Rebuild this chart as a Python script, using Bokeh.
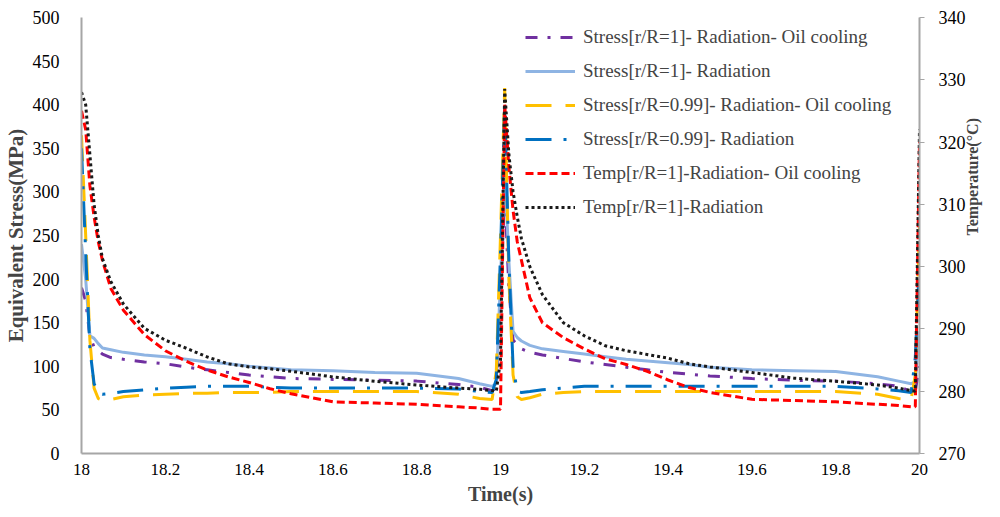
import math
from bokeh.plotting import figure
from bokeh.models import Range1d, LinearAxis, FixedTicker, Legend, LegendItem
from bokeh.embed import file_html
from bokeh.resources import INLINE

# ---------------- data ----------------
time_s = [18.00, 18.01, 18.02, 18.03, 18.04, 18.05, 18.07, 18.10, 18.15, 18.20,
          18.25, 18.30, 18.35, 18.40, 18.45, 18.50, 18.60, 18.70, 18.80, 18.90,
          18.95, 18.98, 18.99, 19.00, 19.01, 19.02, 19.03, 19.04, 19.05, 19.07,
          19.10, 19.15, 19.20, 19.25, 19.30, 19.35, 19.40, 19.45, 19.50, 19.60,
          19.70, 19.80, 19.90, 19.95, 19.98, 19.99, 20.00]

stress_r1_oil = [190, 175, 135, 122, 118, 114, 110, 108, 105, 103,
                 99, 96, 93, 90, 88, 86, 85, 84, 83, 79,
                 76, 72, 75, 180, 300, 190, 130, 125, 120, 116,
                 113, 109, 105, 102, 99, 96, 93, 91, 89, 86,
                 84, 83, 80, 77, 71, 72, 100]

stress_r1_rad = [240, 200, 135, 132, 126, 121, 119, 116, 113, 111,
                 108, 105, 103, 100, 98, 96, 95, 93, 92, 86,
                 80, 77, 80, 200, 330, 220, 140, 133, 129, 124,
                 120, 117, 114, 111, 108, 106, 104, 102, 99, 96,
                 95, 94, 88, 83, 80, 82, 140]

stress_r099_oil = [365, 250, 130, 75, 63, 61, 62, 65, 67, 68,
                   69, 69, 70, 70, 70, 71, 71, 71, 71, 68,
                   63, 62, 95, 250, 419, 200, 90, 65, 62, 64,
                   68, 70, 71, 71, 71, 71, 71, 71, 71, 71,
                   71, 71, 68, 63, 62, 90, 260]

stress_r099_rad = [350, 230, 120, 80, 70, 68, 69, 71, 73, 75,
                   76, 77, 77, 77, 76, 75, 75, 75, 75, 74,
                   71, 70, 85, 230, 400, 220, 100, 71, 70, 71,
                   73, 75, 77, 77, 77, 77, 77, 77, 77, 77,
                   77, 77, 74, 72, 70, 110, 220]

temp_r1_oil = [325, 322, 313, 308, 304, 301, 296.5, 293, 289.1, 286.5,
               284.8, 283.4, 282.3, 281.4, 280.4, 279.6, 278.3, 278.1, 277.9, 277.5,
               277.3, 277.1, 277.1, 277.1, 326, 316, 309, 304, 301, 295,
               291, 288.6, 286.8, 285.2, 284.3, 283.2, 281.8, 280.6, 279.8, 278.7,
               278.5, 278.3, 277.9, 277.7, 277.5, 277.5, 320]

temp_r1_rad = [328, 326, 318, 310, 305, 301.3, 297.6, 294, 290.1, 288.2,
               286.9, 285.5, 284.4, 283.9, 283.6, 283.2, 282.3, 281.6, 281, 280.5,
               280.3, 280.1, 280, 285, 328.5, 318, 312, 308, 304.5, 300,
               295.5, 291, 288.9, 287.3, 286.5, 285.9, 285.3, 284.4, 283.9, 283,
               282.1, 281.6, 281, 280.5, 280.1, 280, 322]

x_ticks = [18.0, 18.2, 18.4, 18.6, 18.8, 19.0, 19.2, 19.4, 19.6, 19.8, 20.0]
x_tick_labels = ["18", "18.2", "18.4", "18.6", "18.8", "19", "19.2", "19.4", "19.6", "19.8", "20"]
stress_ticks = [0, 50, 100, 150, 200, 250, 300, 350, 400, 450, 500]
temp_ticks = [270, 280, 290, 300, 310, 320, 330, 340]

labels = ["Stress[r/R=1]- Radiation- Oil cooling",
          "Stress[r/R=1]- Radiation",
          "Stress[r/R=0.99]- Radiation- Oil cooling",
          "Stress[r/R=0.99]- Radiation",
          "Temp[r/R=1]-Radiation- Oil cooling",
          "Temp[r/R=1]-Radiation"]

# ---------------- figure ----------------
FONT = "Liberation Serif"
AXIS_COLOR = "#A6A6A6"

p = figure(width=992, height=508, output_backend="svg", toolbar_location=None,
           x_range=Range1d(18, 20), y_range=Range1d(0, 500),
           min_border_left=76, min_border_right=70, min_border_top=17, min_border_bottom=55)
p.extra_y_ranges = {"temp": Range1d(270, 340)}
p.outline_line_color = None
p.xgrid.visible = False
p.ygrid.visible = False
p.background_fill_color = "white"
p.border_fill_color = "white"

# x axis
xa = p.xaxis[0]
xa.ticker = FixedTicker(ticks=x_ticks)
xa.major_label_overrides = {t: l for t, l in zip(x_ticks, x_tick_labels)}
xa.axis_label = "Time(s)"
xa.axis_line_color = AXIS_COLOR
xa.axis_line_width = 2
xa.major_tick_line_color = None
xa.minor_tick_line_color = None
xa.major_label_standoff = 4
xa.major_label_text_font = FONT
xa.major_label_text_font_size = "17px"
xa.major_label_text_color = "black"
xa.axis_label_text_font = FONT
xa.axis_label_text_font_style = "bold"
xa.axis_label_text_font_size = "20px"
xa.axis_label_standoff = 5

# left axis
ya = p.yaxis[0]
ya.ticker = FixedTicker(ticks=stress_ticks)
ya.axis_label = "Equivalent Stress(MPa)"
ya.axis_line_color = AXIS_COLOR
ya.axis_line_width = 2
ya.major_tick_line_color = None
ya.minor_tick_line_color = None
ya.major_label_standoff = 16
ya.major_label_text_font = FONT
ya.major_label_text_font_size = "18px"
ya.major_label_text_color = "black"
ya.axis_label_text_font = FONT
ya.axis_label_text_font_style = "bold"
ya.axis_label_text_font_size = "21px"
ya.axis_label_standoff = 2

# right axis
ra = LinearAxis(y_range_name="temp", ticker=FixedTicker(ticks=temp_ticks),
                axis_label="Temperature(°C)")
ra.axis_line_color = AXIS_COLOR
ra.axis_line_width = 2
ra.major_tick_line_color = AXIS_COLOR
ra.major_tick_line_width = 1
ra.major_tick_out = 5
ra.major_tick_in = 0
ra.minor_tick_line_color = None
ra.major_label_standoff = 14
ra.major_label_text_font = FONT
ra.major_label_text_font_size = "18px"
ra.major_label_text_color = "black"
ra.axis_label_text_font = FONT
ra.axis_label_text_font_style = "bold"
ra.axis_label_text_font_size = "16px"
ra.axis_label_standoff = 4
ra.axis_label_orientation = math.pi / 2
p.add_layout(ra, "right")

# ---------------- series ----------------
r1 = p.line(time_s, stress_r1_oil, line_color="#7030A0", line_width=3, line_dash="12 10 3 10")
r2 = p.line(time_s, stress_r1_rad, line_color="#8EB4E3", line_width=3)
r3 = p.line(time_s, stress_r099_oil, line_color="#FFC000", line_width=3, line_dash="26 14")
r4 = p.line(time_s, stress_r099_rad, line_color="#0070C0", line_width=3, line_dash="26 12 3 12")
r5 = p.line(time_s, temp_r1_oil, line_color="#FF0000", line_width=3, line_dash="8 4",
            y_range_name="temp")
r6 = p.line(time_s, temp_r1_rad, line_color="#1A1A1A", line_width=3, line_dash="3 3",
            y_range_name="temp")

legend = Legend(items=[LegendItem(label=l, renderers=[r]) for l, r in
                       zip(labels, [r1, r2, r3, r4, r5, r6])],
                location=(444, 235), padding=0, margin=0, spacing=12,
                glyph_width=50, glyph_height=20, label_height=22, label_standoff=8,
                label_text_font=FONT, label_text_font_size="19px",
                border_line_color=None, background_fill_alpha=0)
p.add_layout(legend, "center")

open("out.html", "w").write(file_html(p, INLINE))
